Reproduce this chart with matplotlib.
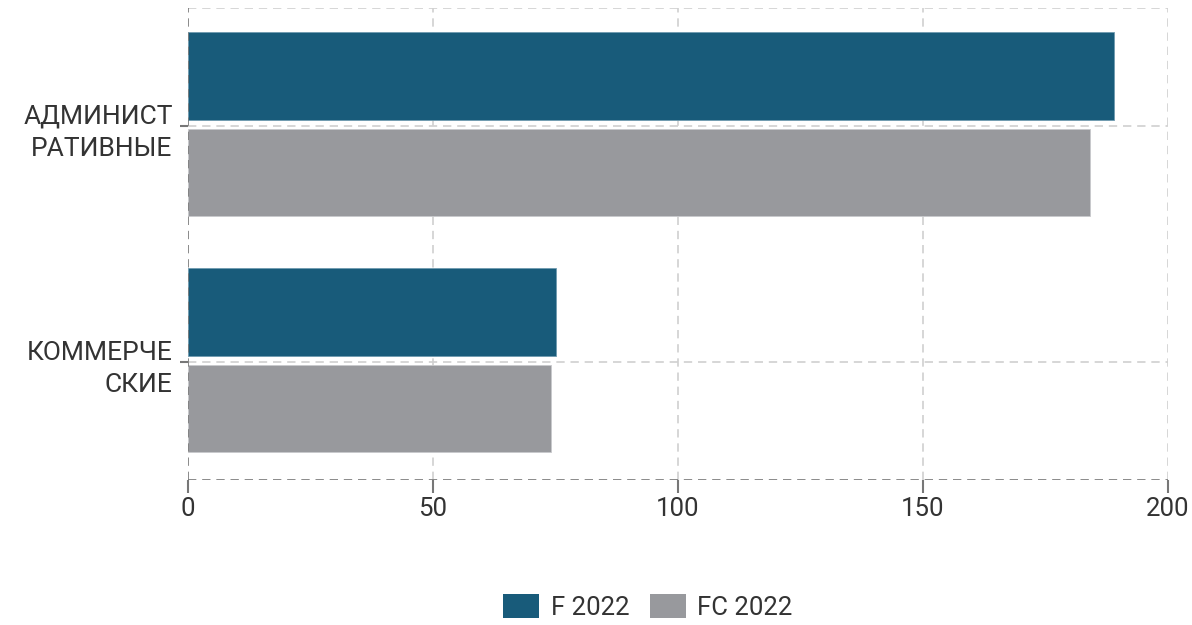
import numpy as np
import matplotlib.pyplot as plt
from matplotlib.patches import Patch

plt.rcParams['font.family'] = ['Roboto', 'DejaVu Sans']

categories = ['АДМИНИСТ\nРАТИВНЫЕ', 'КОММЕРЧЕ\nСКИЕ']
f_2022 = [189, 75]
fc_2022 = [184, 74]
series_names = ['F 2022', 'FC 2022']
colors = ['#185b7a', '#98999d']
xticks = [0, 50, 100, 150, 200]

fig = plt.figure(figsize=(11.92, 6.25), dpi=100)
ax = fig.add_axes([188/1192, 1 - 480/625, 980/1192, 472/625])

y = np.arange(len(categories))
h = 0.37
ax.barh(y - 0.212, f_2022, height=h, color=colors[0], edgecolor='#6f9bb0', linewidth=0.6, zorder=3)
ax.barh(y + 0.198, fc_2022, height=h, color=colors[1], edgecolor='#c8c9cc', linewidth=0.6, zorder=3)

ax.set_xlim(0, 200)
ax.set_ylim(1.5, -0.5)

# dashed grid
dash = (0, (5, 3.5))
for v in xticks[1:]:
    ax.axvline(v, color='#d0d0d0', lw=1.2, ls=dash, zorder=1)
for v in list(y) + [-0.5]:
    ax.axhline(v, color='#d0d0d0', lw=1.2, ls=dash, zorder=1)
ax.axvline(0, color='#777777', lw=1.2, ls=dash, zorder=4)
ax.axhline(1.5, color='#777777', lw=1.2, ls=dash, zorder=4)

for s in ax.spines.values():
    s.set_visible(False)

ax.set_yticks(y)
ax.set_yticklabels(categories, fontsize=19, color='#333333', linespacing=1.45)
ax.set_xticks(xticks)
ax.set_xticklabels([str(v) for v in xticks], fontsize=18.5, color='#333333')
ax.tick_params(axis='y', length=6, width=1.5, color='#777777', pad=5)
ax.tick_params(axis='x', length=9, width=1.5, color='#777777', pad=3)

handles = [Patch(facecolor=c, edgecolor='none') for c in colors]
fig.legend(handles, series_names, loc='center', bbox_to_anchor=(648/1192, 1 - 607/625),
           ncol=2, frameon=False, fontsize=18.5, handlelength=1.4, handleheight=1.05,
           handletextpad=0.45, columnspacing=0.8, labelcolor='#333333')

fig.savefig('out.png', dpi=100)
